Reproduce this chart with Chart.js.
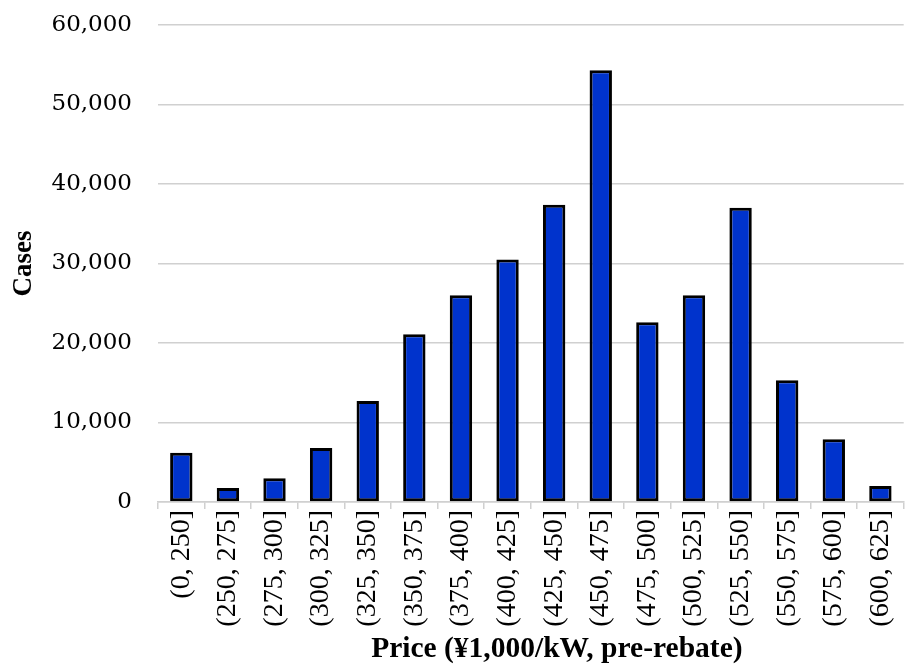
<!DOCTYPE html>
<html>
<head>
<meta charset="utf-8">
<script src="https://cdn.jsdelivr.net/npm/chart.js@4"></script>
<style>
html,body{margin:0;padding:0;background:#fff;overflow:hidden;width:906px;height:666px;}
#wrap{width:915px;height:666px;position:relative;}
</style>
</head>
<body>
<div id="wrap"><canvas id="c"></canvas></div>
<script>
const categories = ["(0, 250]","(250, 275]","(275, 300]","(300, 325]","(325, 350]","(350, 375]","(375, 400]","(400, 425]","(425, 450]","(450, 475]","(475, 500]","(500, 525]","(525, 550]","(550, 575]","(575, 600]","(600, 625]"];
const cases = [6200, 1750, 3000, 6800, 12700, 21100, 26000, 30500, 37400, 54300, 22600, 26000, 37000, 15300, 7900, 2000];
const yTicks = [0, 10000, 20000, 30000, 40000, 50000, 60000];
const xTitle = "Price (¥1,000/kW, pre-rebate)";
const yTitle = "Cases";

const xTitlePlugin = {
  id: 'xTitlePlugin',
  afterDraw(chart) {
    const ctx = chart.ctx;
    const a = chart.chartArea;
    ctx.save();
    ctx.font = 'bold 29.5px "Liberation Serif", serif';
    ctx.fillStyle = '#000';
    ctx.textAlign = 'center';
    ctx.textBaseline = 'alphabetic';
    ctx.fillText(xTitle, (a.left + a.right) / 2 + 26, chart.height - 9);
    ctx.restore();
  }
};

new Chart(document.getElementById('c'), {
  type: 'bar',
  data: {
    labels: categories,
    datasets: [{
      data: cases,
      backgroundColor: '#0033cc',
      borderColor: '#000000',
      borderWidth: 3,
      borderSkipped: false,
      categoryPercentage: 1.0,
      barPercentage: 0.48
    }]
  },
  plugins: [xTitlePlugin],
  options: {
    responsive: true,
    maintainAspectRatio: false,
    animation: false,
    devicePixelRatio: 1,
    layout: { padding: { top: 25, right: 0, left: 11, bottom: 0 } },
    plugins: { legend: { display: false }, tooltip: { enabled: false } },
    scales: {
      x: {
        afterFit: (s) => { s.height = 164; },
        grid: { display: true, drawOnChartArea: false, offset: true, tickLength: 7, color: '#d0d0d0', lineWidth: 1.5 },
        border: { display: true, color: '#d0d0d0', width: 1.5 },
        ticks: {
          color: '#000', maxRotation: 90, minRotation: 90, padding: 1, autoSkip: false,
          font: { family: '"Liberation Serif", serif', size: 28 }
        },
        title: { display: false }
      },
      y: {
        min: 0, max: 60000,
        afterFit: (s) => { s.width = 147; s.paddingTop = 14; s.paddingBottom = 0; },
        afterBuildTicks: (axis) => { axis.ticks = yTicks.map(v => ({ value: v })); },
        grid: { color: '#d0d0d0', lineWidth: 1.5, drawTicks: false },
        border: { display: false },
        ticks: {
          color: '#000', padding: 26,
          font: { family: '"DejaVu Serif", serif', size: 23 },
          callback: (v) => v.toLocaleString('en-US')
        },
        title: { display: true, text: yTitle, color: '#000', padding: { top: 0, bottom: 8 },
          font: { family: '"Liberation Serif", serif', size: 27, weight: 'bold', lineHeight: 1.0 } }
      }
    }
  }
});
</script>
</body>
</html>
